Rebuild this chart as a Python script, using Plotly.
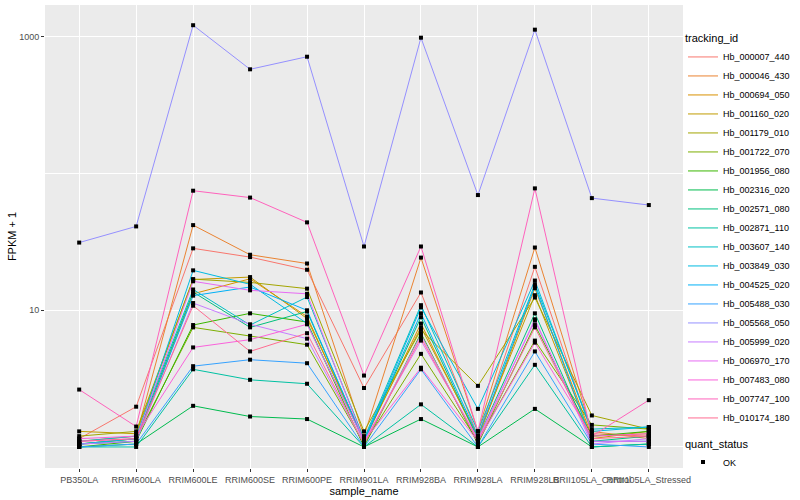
import plotly.graph_objects as go

samples = ["PB350LA", "RRIM600LA", "RRIM600LE", "RRIM600SE", "RRIM600PE",
           "RRIM901LA", "RRIM928BA", "RRIM928LA", "RRIM928LB",
           "RRII105LA_Control", "RRII105LA_Stressed"]

tracking_ids = ["Hb_000007_440", "Hb_000046_430", "Hb_000694_050", "Hb_001160_020",
                "Hb_001179_010", "Hb_001722_070", "Hb_001956_080", "Hb_002316_020",
                "Hb_002571_080", "Hb_002871_110", "Hb_003607_140", "Hb_003849_030",
                "Hb_004525_020", "Hb_005488_030", "Hb_005568_050", "Hb_005999_020",
                "Hb_006970_170", "Hb_007483_080", "Hb_007747_100", "Hb_010174_180"]

colors = ["#F8766D", "#EA8331", "#D89000", "#C09B00", "#A3A500", "#7CAE00", "#39B600",
          "#00BB4E", "#00BF7D", "#00C1A3", "#00BFC4", "#00BAE0", "#00B0F6", "#35A2FF",
          "#9590FF", "#C77CFF", "#E76BF3", "#FA62DB", "#FF62BC", "#FF6C91"]

# FPKM + 1 per sample, one list per tracking_id
hb_000007_440 = [1.15, 1.97, 28.4, 24.5, 19.8, 2.7, 13.5, 1.2, 20.8, 1.25, 1.2]
hb_000046_430 = [1.1, 1.2, 42.0, 25.5, 22.0, 1.2, 24.3, 1.3, 28.8, 1.3, 1.15]
hb_000694_050 = [1.05, 1.1, 13.2, 17.0, 9.0, 1.1, 8.0, 1.15, 14.5, 1.2, 1.25]
hb_001160_020 = [1.3, 1.25, 16.8, 17.5, 8.7, 1.15, 7.5, 1.2, 12.9, 1.15, 1.3]
hb_001179_010 = [1.2, 1.3, 16.9, 16.0, 14.4, 1.3, 7.2, 2.8, 12.4, 1.7, 1.35]
hb_001722_070 = [1.05, 1.15, 7.5, 6.5, 5.6, 1.05, 4.8, 1.1, 6.0, 1.45, 1.35]
hb_001956_080 = [1.0, 1.1, 7.8, 9.5, 8.2, 1.0, 6.8, 1.05, 7.8, 1.2, 1.3]
hb_002316_020 = [1.0, 1.05, 2.0, 1.67, 1.6, 1.0, 1.6, 1.0, 1.9, 1.0, 1.05]
hb_002571_080 = [1.05, 1.15, 13.6, 7.5, 9.8, 1.1, 8.9, 1.15, 9.5, 1.1, 1.2]
hb_002871_110 = [1.0, 1.0, 3.7, 3.1, 2.9, 1.0, 2.05, 1.0, 3.99, 1.0, 1.05]
hb_003607_140 = [1.1, 1.2, 14.2, 7.8, 12.5, 1.15, 10.9, 1.3, 15.5, 1.35, 1.4]
hb_003849_030 = [1.05, 1.15, 19.6, 15.5, 8.0, 1.1, 10.5, 1.9, 16.5, 1.3, 1.4]
hb_004525_020 = [1.05, 1.1, 12.8, 14.8, 10.0, 1.1, 9.5, 1.2, 15.0, 1.1, 1.1]
hb_005488_030 = [1.0, 1.05, 3.9, 4.35, 4.1, 1.0, 3.7, 1.0, 5.0, 1.05, 1.0]
hb_005568_050 = [31.3, 41.1, 1219, 580, 717, 29.3, 988, 69.7, 1131, 66.2, 58.9]
hb_005999_020 = [1.05, 1.1, 11.3, 7.9, 6.2, 1.05, 6.6, 1.1, 8.6, 1.05, 1.15]
hb_006970_170 = [1.1, 1.15, 16.3, 14.0, 13.2, 1.1, 6.0, 1.15, 8.4, 1.1, 1.1]
hb_007483_080 = [1.15, 1.2, 5.35, 6.1, 7.9, 1.1, 3.8, 1.1, 5.8, 1.2, 1.25]
hb_007747_100 = [2.63, 1.41, 75.0, 66.8, 44.0, 3.33, 29.3, 1.3, 78.0, 1.2, 2.2]
hb_010174_180 = [1.1, 1.15, 10.8, 5.0, 6.8, 1.05, 6.3, 1.1, 7.5, 1.15, 1.2]

series = [hb_000007_440, hb_000046_430, hb_000694_050, hb_001160_020, hb_001179_010,
          hb_001722_070, hb_001956_080, hb_002316_020, hb_002571_080, hb_002871_110,
          hb_003607_140, hb_003849_030, hb_004525_020, hb_005488_030, hb_005568_050,
          hb_005999_020, hb_006970_170, hb_007483_080, hb_007747_100, hb_010174_180]

FONT = "Liberation Sans, Arial, sans-serif"

fig = go.Figure()
for name, col, vals in zip(tracking_ids, colors, series):
    fig.add_trace(go.Scatter(
        x=samples, y=vals, mode="lines", name=name,
        line=dict(color=col, width=1), legend="legend"))

all_x = [s for _ in series for s in samples]
all_y = [v for vals in series for v in vals]
fig.add_trace(go.Scatter(
    x=all_x, y=all_y, mode="markers", name="OK",
    marker=dict(color="black", size=4, symbol="square"),
    legend="legend2"))

fig.update_layout(
    width=800, height=500,
    margin=dict(l=45, r=117, t=5, b=32, autoexpand=False),
    paper_bgcolor="white", plot_bgcolor="#EBEBEB",
    font=dict(family=FONT, color="black"),
    showlegend=True,
    legend=dict(
        title=dict(text="tracking_id", font=dict(size=11, color="black")),
        font=dict(size=9, color="black"),
        x=1.0, xanchor="left", y=0.95, yanchor="top",
        bgcolor="rgba(0,0,0,0)", tracegroupgap=0, itemwidth=30),
    legend2=dict(
        title=dict(text="quant_status", font=dict(size=11, color="black")),
        font=dict(size=9, color="black"),
        x=1.0, xanchor="left", y=0.075, yanchor="top",
        bgcolor="rgba(0,0,0,0)", itemwidth=30),
)

fig.update_xaxes(
    type="category", categoryorder="array", categoryarray=samples,
    range=[-0.6, 10.6], tickangle=0, automargin=False,
    showgrid=True, gridcolor="white", gridwidth=1.1,
    ticks="outside", ticklen=3, tickcolor="#333333", tickwidth=1,
    tickfont=dict(size=9, color="#4D4D4D"),
    title=dict(text="sample_name", font=dict(size=11, color="black"), standoff=0),
    zeroline=False, showline=False)

fig.update_yaxes(
    type="log", range=[-0.154, 3.234], automargin=False,
    tickvals=[10, 1000], ticktext=["10", "1000"],
    showgrid=True, gridcolor="white", gridwidth=1.1,
    minor=dict(tickvals=[1, 100], showgrid=True, gridcolor="white", gridwidth=0.5, ticks=""),
    ticks="outside", ticklen=3, tickcolor="#333333", tickwidth=1,
    tickfont=dict(size=9, color="#4D4D4D"),
    title=dict(text="FPKM + 1", font=dict(size=11, color="black"), standoff=0),
    zeroline=False, showline=False)

fig.write_html("out.html", config={"displayModeBar": False},
               post_script="document.body.style.margin='0px';")
